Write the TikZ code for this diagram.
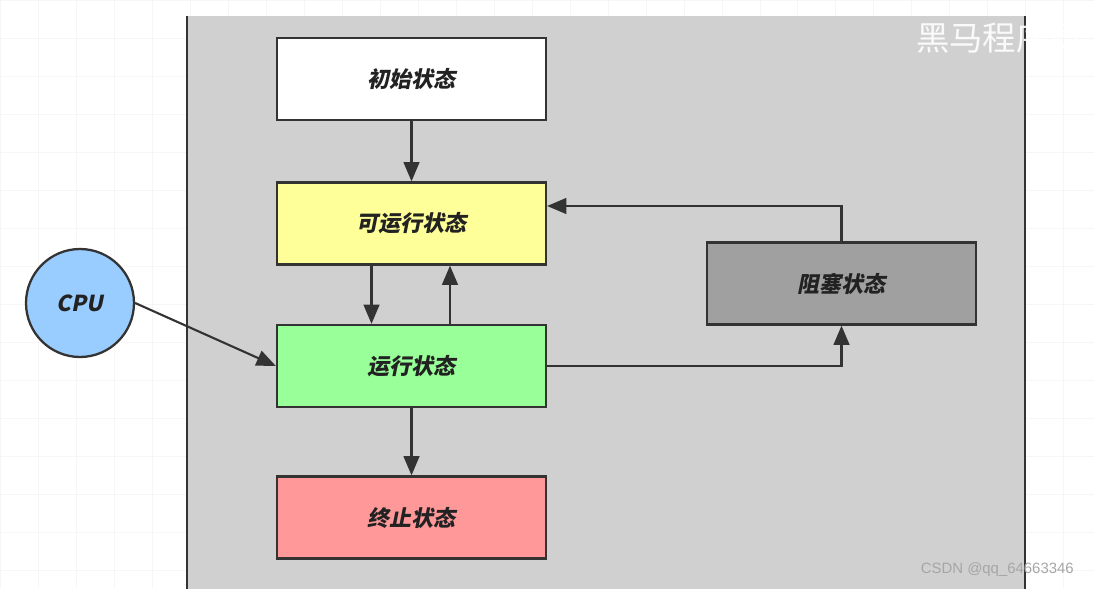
\documentclass[tikz,border=0pt]{standalone}
\usepackage{fontspec}
\newfontfamily\cjkfont[FakeSlant=0.2]{Noto Sans CJK SC}
\newfontfamily\markfont{Noto Sans CJK SC}
\newfontfamily\csdnfont{Liberation Sans}
\usepackage{tikz}
\usetikzlibrary{arrows.meta, calc, positioning}
\definecolor{panelgray}{HTML}{D0D0D0}
\definecolor{linegray}{HTML}{333333}
\definecolor{textgray}{HTML}{222222}
\definecolor{initfill}{HTML}{FFFFFF}
\definecolor{readyfill}{HTML}{FFFF99}
\definecolor{runfill}{HTML}{99FF99}
\definecolor{endfill}{HTML}{FF9999}
\definecolor{blockfill}{HTML}{A0A0A0}
\definecolor{cpufill}{HTML}{99CCFF}
\tikzset{
  state/.style    = {draw=linegray, line width=1.3pt, minimum width=5.38cm,
                     minimum height=1.64cm, text=textgray,
                     font=\cjkfont\bfseries\fontsize{12.5}{14}\selectfont},
  cpunode/.style  = {circle, draw=linegray, line width=1.3pt, fill=cpufill,
                     minimum size=2.16cm, text=textgray,
                     font=\cjkfont\bfseries\fontsize{12.5}{14}\selectfont},
  flow/.style     = {-{Triangle[length=11pt, width=9pt]}, line width=1.2pt, linegray},
  gridline/.style = {gray!7, line width=0.4pt},
  lbl/.style      = {font=\csdnfont\fontsize{8.5}{10}\selectfont},
}

\begin{document}
\begin{tikzpicture}[x=0.02cm, y=-0.02cm]
  \useasboundingbox (0,0) rectangle (1094,588);
  \fill[white] (0,0) rectangle (1094,588);
  % faint grid behind the panel
  \draw[gridline, step=0.76cm] (0,0) grid (1094,588);
  \fill[panelgray] (187,16) rectangle (1025,590);
  \draw[linegray, line width=1.3pt] (187,16) -- (187,590);
  \draw[linegray, line width=1.3pt] (1025,16) -- (1025,590);

  % states
  \node[state, fill=initfill]  (init)  at (411.5, 79)   {初始状态};
  \node[state, fill=readyfill] (ready) at (411.5, 223.5) {可运行状态};
  \node[state, fill=runfill]   (run)   at (411.5, 366)  {运行状态};
  \node[state, fill=endfill]   (term)  at (411.5, 517.5) {终止状态};
  \node[state, fill=blockfill] (block) at (841.5, 283.5) {阻塞状态};
  \node[cpunode] (cpu) at (80, 303) {CPU};

  % transitions
  \draw[flow] (init) -- (ready);
  \draw[flow] ([xshift=-0.8cm]ready.south) -- ([xshift=-0.8cm]run.north);
  \draw[flow] ([xshift=0.77cm]run.north) -- ([xshift=0.77cm]ready.south);
  \draw[flow] (run) -- (term);
  \draw[flow] (run.east) -| (block.south);
  \draw[flow] (block.north) |- ([yshift=0.35cm]ready.east);
  \draw[flow] (cpu.east) -- (run.west);

  % watermarks
  \node[anchor=west, white, opacity=0.9, font=\markfont\fontsize{19}{22}\selectfont]
    (brand) at (910, 38) {黑马程序员};
  \node[lbl, anchor=east, gray!70] (csdn) at (1080, 570) {CSDN @qq\_64663346};
\end{tikzpicture}
\end{document}
